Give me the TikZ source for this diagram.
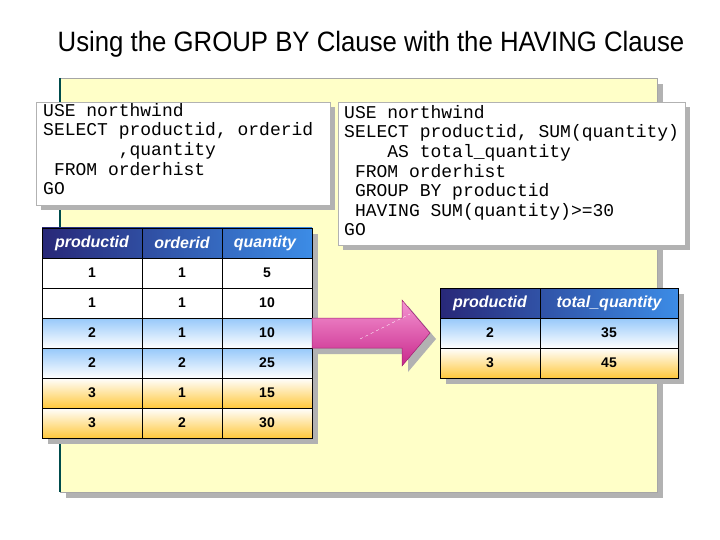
\documentclass[tikz,border=0pt]{standalone}
\usepackage{fontspec}
\setmainfont{Liberation Sans}
\setmonofont{Liberation Mono}
\definecolor{navy}{RGB}{40,40,120}
\definecolor{hblue}{RGB}{60,140,230}
\definecolor{lblue}{RGB}{150,200,250}
\definecolor{lorange}{RGB}{255,200,60}
\definecolor{panel}{RGB}{255,255,200}
\definecolor{pinkA}{RGB}{245,150,210}
\definecolor{pinkB}{RGB}{200,40,140}
\begin{document}
\begin{tikzpicture}[x=1pt,y=-1pt,
  shadow/.style={fill=black!30,draw=none},
  hdr/.style={left color=navy,right color=hblue,draw=black,line width=0.6pt},
  bl/.style={top color=lblue,bottom color=white,draw=black,line width=0.6pt},
  og/.style={top color=white,bottom color=lorange,draw=black,line width=0.6pt},
  ht/.style={font=\bfseries\itshape\fontsize{16}{18}\selectfont,text=white},
  ct/.style={font=\bfseries\fontsize{14}{17}\selectfont},
  code/.style={font=\ttfamily\fontsize{18}{19.6}\selectfont,align=left,anchor=north west,inner sep=0pt}]
\useasboundingbox (0,0) rectangle (720,540);
\fill[white] (0,0) rectangle (720,540);
\node (title) at (371,44) {\fontsize{28}{32}\selectfont\addfontfeature{FakeStretch=0.92}Using the GROUP BY Clause with the HAVING Clause};
% panel
\fill[shadow] (66,84) rectangle (663,498);
\fill[panel] (60,78) rectangle (657,492);
\draw[gray!70,line width=0.5pt] (60,78) rectangle (657,492);
\draw[teal!60!black,line width=1.5pt] (60,78) -- (60,492);
% left code
\fill[shadow] (41,107) rectangle (335,210);
\draw[fill=white,draw=gray!60] (36,102) rectangle (330,205);
\node[code] (c1) at (43,103) {USE northwind\\SELECT productid, orderid\\\ \ \ \ \ \ \ ,quantity\\\ FROM orderhist\\GO};
% right code
\fill[shadow] (343,107) rectangle (690,250);
\draw[fill=white,draw=gray!60] (338,102) rectangle (685,245);
\node[code] (c2) at (344,105) {USE northwind\\SELECT productid, SUM(quantity)\\\ \ \ \ AS total\_quantity\\\ FROM orderhist\\\ GROUP BY productid\\\ HAVING SUM(quantity)>=30\\GO};
% left table
\fill[shadow] (48,234) rectangle (318,444);
\def\cA{42}\def\cB{142}\def\cC{222}\def\cD{312}
\draw[hdr] (\cA,228) rectangle (\cD,258);
\draw (\cB,228)--(\cB,258) (\cC,228)--(\cC,258);
\node[ht] (h1) at (92,243) {productid};
\node[ht] (h2) at (182,243) {orderid};
\node[ht] (h3) at (265,243) {quantity};
\foreach \y/\a/\b/\c in {258/1/1/5,288/1/1/10}{
  \draw[fill=white,line width=0.6pt] (\cA,\y) rectangle (\cD,\y+30);
  \draw (\cB,\y)--(\cB,\y+30) (\cC,\y)--(\cC,\y+30);
  \node[ct] at (92,\y+15) {\a};
  \node[ct] at (182,\y+15) {\b};
  \node[ct] at (267,\y+15) {\c};}
\foreach \y/\s/\a/\b/\c in {318/bl/2/1/10,348/bl/2/2/25,378/og/3/1/15,408/og/3/2/30}{
  \draw[\s] (\cA,\y) rectangle (\cD,\y+30);
  \draw (\cB,\y)--(\cB,\y+30) (\cC,\y)--(\cC,\y+30);
  \node[ct] at (92,\y+15) {\a};
  \node[ct] at (182,\y+15) {\b};
  \node[ct] at (267,\y+15) {\c};}
% arrow
\fill[shadow] (318,324) -- (408,324) -- (408,306) -- (436,339) -- (408,372) -- (408,354) -- (318,354) -- cycle;
\draw[draw=pinkB!80!black,line width=0.5pt,top color=pinkA,bottom color=pinkB]
  (312,318) -- (402,318) -- (402,300) -- (430,333) -- (402,366) -- (402,348) -- (312,348) -- cycle;
\draw[white,dashed,line width=0.4pt] (360,339) -- (410,314);
% right table
\fill[shadow] (446,294) rectangle (684,384);
\draw[hdr] (440,288) rectangle (678,318);
\draw (540,288)--(540,318);
\node[ht] (r1) at (490,303) {productid};
\node[ht] (r2) at (609,303) {total\_quantity};
\draw[bl] (440,318) rectangle (678,348); \draw (540,318)--(540,348);
\draw[og] (440,348) rectangle (678,378); \draw (540,348)--(540,378);
\node[ct] at (490,333) {2}; \node[ct] at (609,333) {35};
\node[ct] at (490,363) {3}; \node[ct] at (609,363) {45};
\end{tikzpicture}
\end{document}
